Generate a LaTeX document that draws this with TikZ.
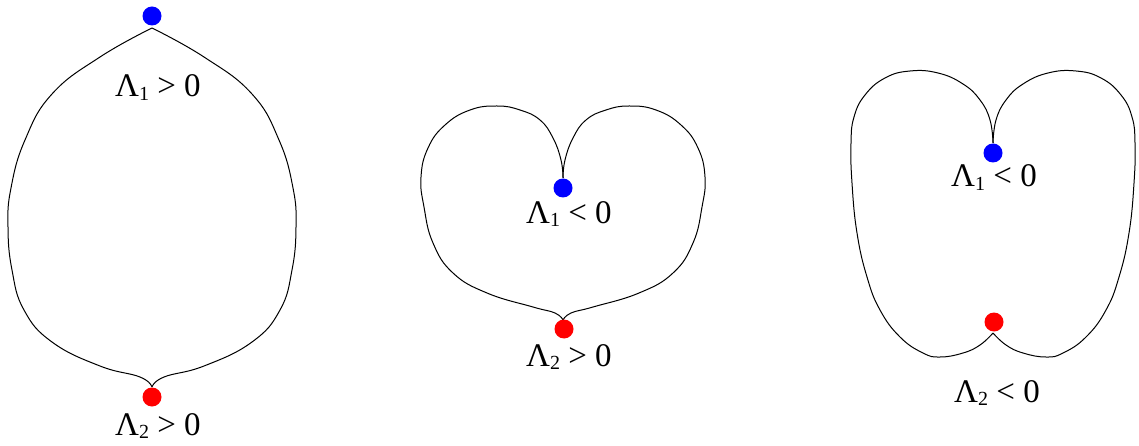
\documentclass[tikz,border=0pt]{standalone}
\usepackage{fontspec}
\setmainfont{Liberation Serif}
\usetikzlibrary{positioning}

\newcommand{\lsub}[1]{\raisebox{-0.12em}{\fontsize{20}{20}\selectfont #1}}

\begin{document}
\begin{tikzpicture}[
    x=1pt, y=-1pt,
    curve/.style={line width=1pt, smooth, tension=0.75},
    dot/.style={circle, fill=#1, inner sep=0pt, minimum size=19pt},
    lab/.style={font=\fontsize{33}{40}\selectfont, inner sep=0pt, anchor=base},
]
\useasboundingbox (0,0) rectangle (1139,446);

% Left shape: both eigenvalues positive
\foreach \s in {1,-1} {
    \draw[curve, shift={(152,0)}, xscale=\s] plot coordinates {(0,28) (-52,57) (-100,94) (-127,140) (-141,188) (-144,227) (-140,270) (-128,310) (-100,342) (-52,366) (-12,377) (0,387)};
}
\node[dot=blue] (top1) at (152,16) {};
\node[dot=red] (bot1) at (152,397) {};
\node[lab] (labtop1) at (158,97) {Λ\lsub{1} > 0};
\node[lab] (labbot1) at (158,435) {Λ\lsub{2} > 0};

% Middle shape
\foreach \s in {1,-1} {
    \draw[curve, shift={(563,0)}, xscale=\s] plot coordinates {(0,178) (-2,160) (-10,138) (-23,120) (-43,110) (-66,106) (-93,110) (-118,125) (-135,148) (-142,177) (-139,207) (-130,243) (-110,273) (-76,293) (-30,307) (-8,313) (0,320)};
}
\node[dot=blue] (top2) at (563,188) {};
\node[dot=red] (bot2) at (564,329) {};
\node[lab] (labtop2) at (569,223) {Λ\lsub{1} < 0};
\node[lab] (labbot2) at (569,366) {Λ\lsub{2} > 0};

% Right shape: both eigenvalues negative
\foreach \s in {1,-1} {
    \draw[curve, shift={(993,0)}, xscale=\s] plot coordinates {(0,143) (-3,120) (-13,100) (-30,84) (-55,73) (-83,71) (-108,78) (-128,95) (-139,117) (-142,143) (-141,183) (-136,233) (-126,277) (-113,310) (-93,337) (-70,353) (-53,357) (-30,353) (-13,345) (0,333)};
}
\node[dot=blue] (top3) at (993,153) {};
\node[dot=red] (bot3) at (994,322) {};
\node[lab] (labtop3) at (994,187) {Λ\lsub{1} < 0};
\node[lab] (labbot3) at (997,402) {Λ\lsub{2} < 0};

\end{tikzpicture}
\end{document}
